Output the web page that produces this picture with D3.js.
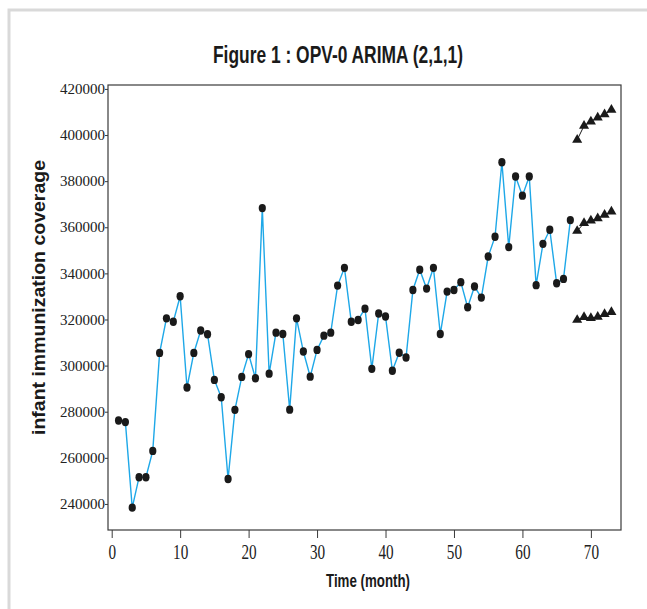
<!DOCTYPE html>
<html>
<head>
<meta charset="utf-8">
<script src="https://cdn.jsdelivr.net/npm/d3@7"></script>
<style>
  body { margin: 0; background: #fff; }
</style>
</head>
<body>
<div id="wrapper"></div>
<script>
// observed monthly coverage (months 1..67)
const months = [1, 2, 3, 4, 5, 6, 7, 8, 9, 10, 11, 12, 13, 14, 15, 16, 17, 18, 19, 20,
  21, 22, 23, 24, 25, 26, 27, 28, 29, 30, 31, 32, 33, 34, 35, 36, 37, 38, 39, 40,
  41, 42, 43, 44, 45, 46, 47, 48, 49, 50, 51, 52, 53, 54, 55, 56, 57, 58, 59, 60,
  61, 62, 63, 64, 65, 66, 67];
const coverage = [276200, 275500, 238400, 251600, 251600, 263000, 305500, 320500, 319000, 330100,
  290500, 305500, 315200, 313600, 293800, 286300, 250800, 280800, 295100, 305000,
  294500, 368300, 296500, 314300, 313700, 280900, 320500, 306100, 295200, 306800,
  313000, 314300, 334700, 342400, 319000, 319800, 324700, 298600, 322600, 321300,
  297800, 305600, 303500, 332800, 341600, 333400, 342400, 313700, 332100, 332800,
  336200, 325300, 334300, 329500, 347300, 355900, 388200, 351400, 382000, 373700,
  382000, 334900, 352800, 358900, 335700, 337600, 363100];

// forecast (months 68..73): upper limit, forecast, lower limit
const forecastMonths = [68, 69, 70, 71, 72, 73];
const upperLimit = [397900, 404000, 405800, 407600, 409000, 410900];
const forecast = [358400, 361800, 362900, 363900, 365400, 366800];
const lowerLimit = [319800, 321000, 320600, 321200, 322300, 323200];

const xTicks = [0, 10, 20, 30, 40, 50, 60, 70];
const yTicks = [240000, 260000, 280000, 300000, 320000, 340000, 360000, 380000, 400000, 420000];

const title = "Figure 1 : OPV-0 ARIMA (2,1,1)";
const xLabel = "Time (month)";
const yLabel = "infant immunization coverage";

function drawChart() {
  let dimensions = {
    width: 647,
    height: 609,
    margin: {
      top: 85,
      right: 26,
      bottom: 79,
      left: 108,
    },
  }
  dimensions.boundedWidth = dimensions.width
    - dimensions.margin.left
    - dimensions.margin.right
  dimensions.boundedHeight = dimensions.height
    - dimensions.margin.top
    - dimensions.margin.bottom

  const wrapper = d3.select("#wrapper")
    .append("svg")
    .attr("width", dimensions.width)
    .attr("height", dimensions.height)
    .style("display", "block");

  // light gray page frame
  wrapper.append("rect")
    .attr("x", 9)
    .attr("y", 10)
    .attr("width", dimensions.width + 20)
    .attr("height", dimensions.height + 20)
    .attr("fill", "none")
    .attr("stroke", "#d9d9d9")
    .attr("stroke-width", 3);

  const bounds = wrapper.append("g")
    .attr("transform", `translate(${dimensions.margin.left},${dimensions.margin.top})`);

  const xScale = d3.scaleLinear()
    .domain([-0.54, 74.4])
    .range([0, dimensions.boundedWidth]);

  const yScale = d3.scaleLinear()
    .domain([228700, 421700])
    .range([dimensions.boundedHeight, 0]);

  // plot box
  bounds.append("rect")
    .attr("width", dimensions.boundedWidth)
    .attr("height", dimensions.boundedHeight)
    .attr("fill", "none")
    .attr("stroke", "#3a3a3a")
    .attr("stroke-width", 1.2);

  // axes
  const yAxis = bounds.append("g")
    .call(d3.axisLeft(yScale).tickValues(yTicks).tickSize(3).tickPadding(0).tickFormat(d3.format("d")));
  yAxis.select(".domain").remove();
  yAxis.selectAll("line").attr("stroke", "#3a3a3a");
  yAxis.selectAll("text")
    .attr("fill", "#222")
    .style("font-family", "'Liberation Serif', 'DejaVu Serif', serif")
    .style("font-size", "14.5px")
    .attr("textLength", 45)
    .attr("lengthAdjust", "spacingAndGlyphs");

  const xAxis = bounds.append("g")
    .attr("transform", `translate(0,${dimensions.boundedHeight})`)
    .call(d3.axisBottom(xScale).tickValues(xTicks).tickSize(8).tickPadding(6));
  xAxis.select(".domain").remove();
  xAxis.selectAll("line").attr("stroke", "#3a3a3a");
  xAxis.selectAll("text")
    .attr("fill", "#222")
    .style("font-family", "'Liberation Serif', 'DejaVu Serif', serif")
    .style("font-size", "21px")
    .attr("textLength", d => String(d).length * 7.6)
    .attr("lengthAdjust", "spacingAndGlyphs");

  // observed series
  const observed = months.map((m, i) => ({ month: m, value: coverage[i] }));

  const line = d3.line()
    .x(d => xScale(d.month))
    .y(d => yScale(d.value));

  bounds.append("path")
    .datum(observed)
    .attr("d", line)
    .attr("fill", "none")
    .attr("stroke", "#1ea8e8")
    .attr("stroke-width", 1.4);

  bounds.selectAll(".obs")
    .data(observed)
    .join("ellipse")
    .attr("class", "obs")
    .attr("cx", d => xScale(d.month))
    .attr("cy", d => yScale(d.value))
    .attr("rx", 3.6)
    .attr("ry", 4.2)
    .attr("fill", "#1a1a1a");

  // forecast rows with triangles
  const triangle = d3.symbol().type(d3.symbolTriangle).size(44);
  [upperLimit, forecast, lowerLimit].forEach(series => {
    const pts = forecastMonths.map((m, i) => ({ month: m, value: series[i] }));
    bounds.append("path")
      .datum(pts)
      .attr("d", line)
      .attr("fill", "none")
      .attr("stroke", "#1a1a1a")
      .attr("stroke-width", 1);
    bounds.append("g")
      .selectAll("path")
      .data(pts)
      .join("path")
      .attr("d", triangle)
      .attr("transform", d => `translate(${xScale(d.month)},${yScale(d.value)})`)
      .attr("fill", "#1a1a1a");
  });

  // titles
  wrapper.append("text")
    .attr("x", 338)
    .attr("y", 63)
    .attr("text-anchor", "middle")
    .style("font-family", "'Liberation Sans Narrow', 'Liberation Sans', Arial, sans-serif")
    .style("font-size", "24px")
    .style("font-weight", "bold")
    .attr("fill", "#1a1a1a")
    .attr("textLength", 250)
    .attr("lengthAdjust", "spacingAndGlyphs")
    .text(title);

  wrapper.append("text")
    .attr("x", 368)
    .attr("y", 587)
    .attr("text-anchor", "middle")
    .style("font-family", "'Liberation Sans Narrow', 'Liberation Sans', Arial, sans-serif")
    .style("font-size", "18px")
    .style("font-weight", "bold")
    .attr("fill", "#1a1a1a")
    .attr("textLength", 84)
    .attr("lengthAdjust", "spacingAndGlyphs")
    .text(xLabel);

  wrapper.append("text")
    .attr("transform", "translate(45,297.5) rotate(-90)")
    .attr("text-anchor", "middle")
    .style("font-family", "'Liberation Sans', Arial, sans-serif")
    .style("font-size", "19px")
    .style("font-weight", "bold")
    .attr("fill", "#1a1a1a")
    .attr("textLength", 275)
    .attr("lengthAdjust", "spacingAndGlyphs")
    .text(yLabel);
}

drawChart()
</script>
</body>
</html>
